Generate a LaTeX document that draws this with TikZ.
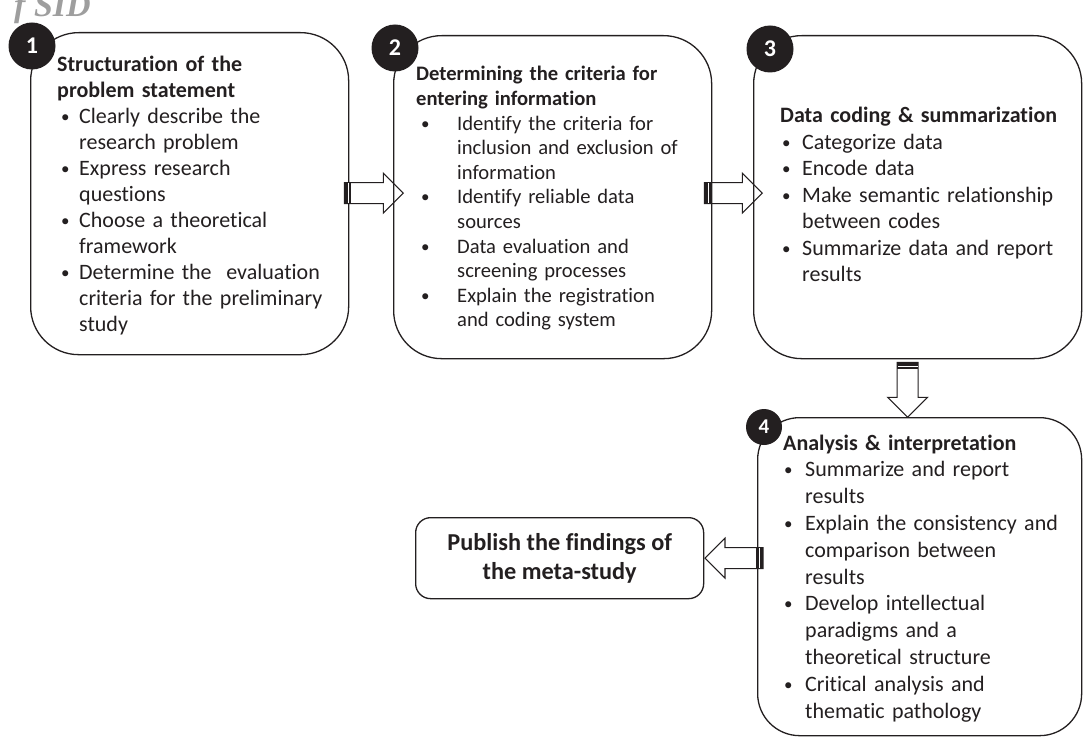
\documentclass[tikz,border=0pt]{standalone}
\usepackage{fontspec}
\setmainfont{Carlito}[Ligatures={NoCommon}]
\newfontfamily\wmfont{Liberation Serif}
\usetikzlibrary{calc}
\definecolor{ink}{RGB}{35,31,32}
\newlength\bulind
\newlength\bulpos
\newcommand\bul[1]{\par\hangindent=\bulind\hangafter=1\noindent\makebox[\bulind][l]{\hspace{\bulpos}\raisebox{1pt}{\fontsize{17}{17}\selectfont •}}#1}
\newcommand\blockarr[3]{%
  \begin{scope}[shift={#1},rotate=#2]
    \draw[arrline] (0,-10.5) -- ({#3-20},-10.5) -- ({#3-20},-20) -- (#3,0) -- ({#3-20},20) -- ({#3-20},10.5) -- (0,10.5) -- cycle;
    \fill[ink] (0,-10.5) rectangle (7,10.5);
    \draw[white, line width=0.6pt] (4,-10) -- (4,10);
  \end{scope}}
\begin{document}
\begin{tikzpicture}[x=1pt,y=-1pt,
  box/.style={draw=ink, line width=1.3pt, rounded corners=48pt, anchor=north west, inner sep=0pt},
  arrline/.style={draw=ink, line width=1.1pt, line join=miter},
  txt/.style={anchor=base west, inner sep=0pt, text width=300pt, align=left, text=ink, font=\fontsize{22}{26}\selectfont},
  num/.style={circle, fill=ink, text=white, inner sep=0pt, font=\bfseries\fontsize{24}{24}\selectfont},
  pub/.style={draw=ink, line width=1.3pt, rounded corners=15pt, anchor=north west, inner sep=0pt, align=center, text=ink, font=\bfseries\fontsize{24.3}{29}\selectfont}]
\useasboundingbox (0,0) rectangle (1083,738);
% watermark (cut by the top edge, as in the reference)
\node[anchor=base west, inner sep=0pt, text=black!38, font=\wmfont\bfseries\itshape\fontsize{34}{34}\selectfont] (wm) at (14,17) {f SID};
% boxes
\node[box, minimum width=318pt, minimum height=322pt] (b1) at (30,32) {};
\node[box, minimum width=318pt, minimum height=323pt] (b2) at (393,35) {};
\node[box, minimum width=328pt, minimum height=323pt] (b3) at (753,35) {};
\node[box, rounded corners=42pt, minimum width=324pt, minimum height=318pt] (b4) at (757,417) {};
\node[pub, minimum width=288pt, minimum height=81pt] (b5) at (415,517) {Publish the findings of\\the meta-study};
% arrows
\blockarr{($(b1.east)+(-5,-0.5)$)}{0}{59}
\blockarr{($(b2.east|-b1.east)+(-8,-0.5)$)}{0}{58}
\blockarr{($(b3.south)+(-10,3)$)}{-90}{55}
\blockarr{($(b4.west|-b5.east)+(6,0)$)}{180}{58}
% texts
\node[txt] (t1) at (57,72) {\setlength\bulind{22pt}\setlength\bulpos{4pt}%
\noindent{\bfseries Structuration of the\newline problem statement}
\bul{Clearly describe the\newline research problem}
\bul{Express research\newline questions}
\bul{Choose a theoretical\newline framework}
\bul{Determine the\ \ evaluation\newline criteria for the preliminary\newline study}\par};
\node[txt, font=\fontsize{20.6}{24.6}\selectfont] (t2) at (416,81) {\setlength\bulind{41pt}\setlength\bulpos{5pt}%
\noindent{\bfseries Determining the criteria for\newline entering information}
\bul{Identify the criteria for\newline inclusion and exclusion of\newline information}
\bul{Identify reliable data\newline sources}
\bul{Data evaluation and\newline screening processes}
\bul{Explain the registration\newline and coding system}\par};
\node[txt, font=\fontsize{22}{26.5}\selectfont] (t3) at (780,123) {\setlength\bulind{22pt}\setlength\bulpos{2pt}%
\noindent{\bfseries Data coding \& summarization}
\bul{Categorize data}
\bul{Encode data}
\bul{Make semantic relationship\newline between codes}
\bul{Summarize data and report\newline results}\par};
\node[txt, font=\fontsize{22}{26.8}\selectfont] (t4) at (783,450) {\setlength\bulind{22pt}\setlength\bulpos{1pt}%
\noindent{\bfseries Analysis \& interpretation}
\bul{Summarize and report\newline results}
\bul{Explain the consistency and\newline comparison between\newline results}
\bul{Develop intellectual\newline paradigms and a\newline theoretical structure}
\bul{Critical analysis and\newline thematic pathology}\par};
% numbers
\node[num, minimum size=47pt] (n1) at (32,46) {1};
\node[num, minimum size=47pt] (n2) at (395,48) {2};
\node[num, minimum size=47pt] (n3) at (770,49) {3};
\node[num, minimum size=36pt, font=\bfseries\fontsize{21}{21}\selectfont] (n4) at (764,427) {4};
\end{tikzpicture}
\end{document}
